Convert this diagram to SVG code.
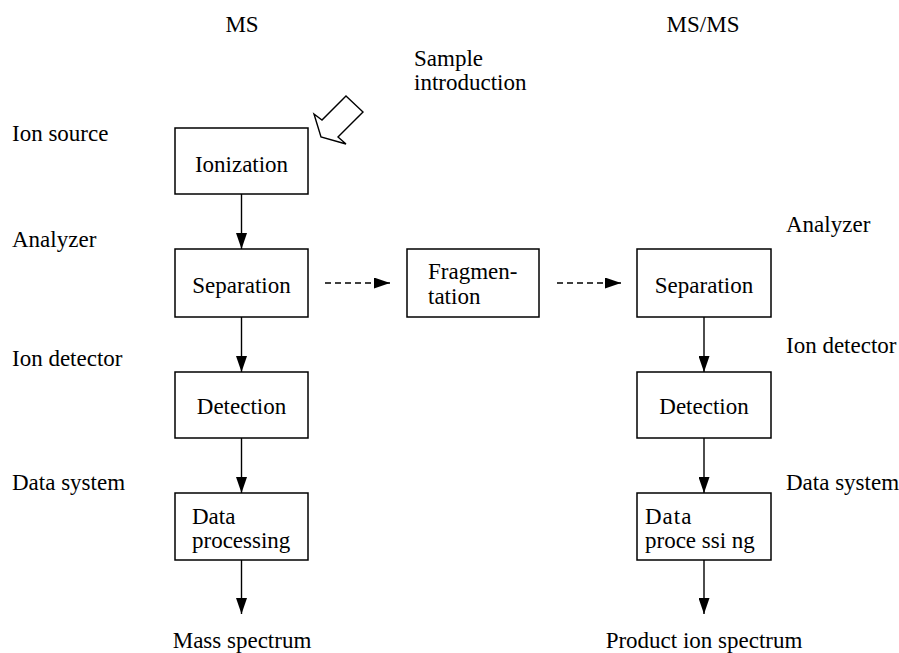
<svg xmlns="http://www.w3.org/2000/svg" width="899" height="653" viewBox="0 0 899 653">
<style>
.c{text-anchor:middle}
.box{fill:#fff;stroke:#000;stroke-width:1.5}
.ln{stroke:#000;stroke-width:1.4;fill:none}
.ds{stroke:#000;stroke-width:1.4;fill:none;stroke-dasharray:6 4}
</style>
<defs>
<marker id="ah" viewBox="0 0 16 11" refX="16" refY="5.5" markerWidth="16" markerHeight="11" markerUnits="userSpaceOnUse" orient="auto">
<path d="M0,0 L16,5.5 L0,11 Z" fill="#000"/>
</marker>
</defs>
<rect width="899" height="653" fill="#fff"/>
<g font-family="'Liberation Serif', 'DejaVu Serif', 'Times New Roman', serif" font-size="23" fill="#000">
<g id="headers">
<text class="c" x="242" y="32">MS</text>
<text class="c" x="703" y="32">MS/MS</text>
</g>
<g id="stage-labels">
<text x="12" y="141">Ion source</text>
<text x="12" y="247">Analyzer</text>
<text x="12" y="366">Ion detector</text>
<text x="12" y="490">Data system</text>
<text x="786" y="232">Analyzer</text>
<text x="786" y="353">Ion detector</text>
<text x="786" y="490">Data system</text>
</g>
<g id="sample-introduction">
<text x="414" y="66">Sample</text>
<text x="414" y="90">introduction</text>
<path class="ln" d="M346,96 L363,112 L338,137 L346,144 L321,137 L314,114 L322,120 Z"/>
</g>
<g id="connectors">
<line class="ln" x1="241.5" y1="194" x2="241.5" y2="249" marker-end="url(#ah)"/>
<line class="ln" x1="241.5" y1="317" x2="241.5" y2="372" marker-end="url(#ah)"/>
<line class="ln" x1="241.5" y1="438" x2="241.5" y2="493" marker-end="url(#ah)"/>
<line class="ln" x1="241.5" y1="560" x2="241.5" y2="614" marker-end="url(#ah)"/>
<line class="ds" x1="325" y1="283" x2="390" y2="283" marker-end="url(#ah)"/>
<line class="ds" x1="557" y1="283" x2="621" y2="283" marker-end="url(#ah)"/>
<line class="ln" x1="704" y1="317" x2="704" y2="372" marker-end="url(#ah)"/>
<line class="ln" x1="704" y1="438" x2="704" y2="493" marker-end="url(#ah)"/>
<line class="ln" x1="704" y1="560" x2="704" y2="614" marker-end="url(#ah)"/>
</g>
<g id="ionization">
<rect class="box" x="175" y="128" width="133" height="66"/>
<text class="c" x="241.5" y="172">Ionization</text>
</g>
<g id="separation-ms">
<rect class="box" x="175" y="249" width="133" height="68"/>
<text class="c" x="241.5" y="293">Separation</text>
</g>
<g id="fragmentation">
<rect class="box" x="407" y="249" width="132" height="68"/>
<text x="428" y="279">Fragmen-</text>
<text x="428" y="304">tation</text>
</g>
<g id="separation-msms">
<rect class="box" x="637" y="249" width="134" height="68"/>
<text class="c" x="704" y="293">Separation</text>
</g>
<g id="detection-ms">
<rect class="box" x="175" y="372" width="133" height="66"/>
<text class="c" x="241.5" y="414">Detection</text>
</g>
<g id="detection-msms">
<rect class="box" x="637" y="372" width="134" height="66"/>
<text class="c" x="704" y="414">Detection</text>
</g>
<g id="data-processing-ms">
<rect class="box" x="175" y="493" width="133" height="67"/>
<text x="192" y="524">Data</text>
<text x="192" y="548">processing</text>
</g>
<g id="data-processing-msms">
<rect class="box" x="637" y="493" width="134" height="67"/>
<text x="645" y="524" letter-spacing="1">Data</text>
<text x="645" y="548">proce ssi ng</text>
</g>
<g id="outputs">
<text class="c" x="242" y="648">Mass spectrum</text>
<text class="c" x="704" y="648">Product ion spectrum</text>
</g>
</g>
</svg>
